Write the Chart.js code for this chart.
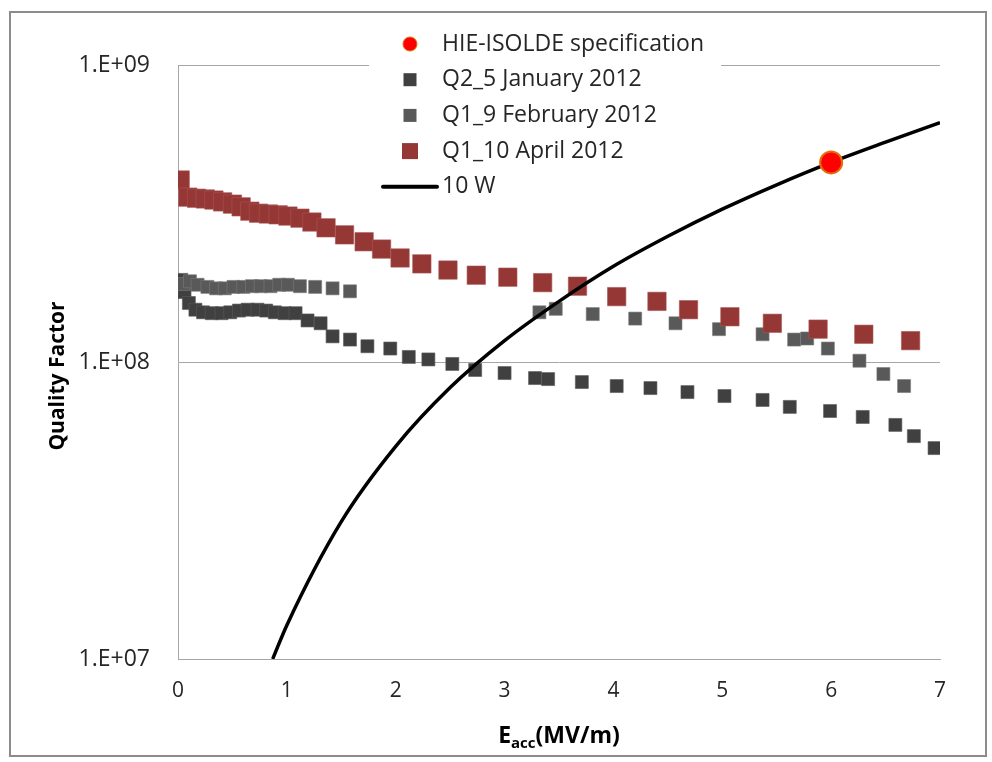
<!DOCTYPE html>
<html lang="en">
<head>
  <meta charset="UTF-8">
  <title>Quality Factor vs Eacc</title>
  <script src="https://cdn.jsdelivr.net/npm/chart.js"></script>
  <style>
    html, body { margin: 0; padding: 0; background: #fff; }
    #wrap { width: 992px; height: 762px; }
  </style>
</head>
<body>
<div id="wrap"><canvas id="qChart" width="992" height="762"></canvas></div>
<script>
  // HIE-ISOLDE specification point
  const specE = [6.0];
  const specQ = [4.7e8];

  // Q2_5 January 2012
  const janE = [0.03, 0.06, 0.10, 0.16, 0.23, 0.31, 0.40, 0.48, 0.56, 0.64, 0.73, 0.81, 0.89, 0.98, 1.08,
                1.19, 1.31, 1.42, 1.58, 1.74, 1.95, 2.12, 2.30, 2.52, 2.73, 3.00, 3.28, 3.40, 3.71, 4.03,
                4.34, 4.68, 5.02, 5.37, 5.62, 5.99, 6.29, 6.59, 6.76, 6.95];
  const janQ = [1.89e8, 1.72e8, 1.58e8, 1.50e8, 1.47e8, 1.46e8, 1.46e8, 1.47e8, 1.49e8, 1.50e8, 1.50e8, 1.49e8, 1.47e8, 1.46e8, 1.46e8,
                1.38e8, 1.35e8, 1.22e8, 1.19e8, 1.13e8, 1.11e8, 1.04e8, 1.02e8, 9.85e7, 9.40e7, 9.18e7, 8.83e7, 8.76e7, 8.56e7, 8.30e7,
                8.17e7, 7.92e7, 7.68e7, 7.45e7, 7.06e7, 6.84e7, 6.53e7, 6.14e7, 5.63e7, 5.13e7];

  // Q1_9 February 2012
  const febE = [0.05, 0.11, 0.18, 0.27, 0.35, 0.43, 0.51, 0.60, 0.68, 0.76, 0.85, 0.93, 1.01, 1.12, 1.26, 1.42, 1.58,
                3.32, 3.47, 3.81, 4.20, 4.57, 4.97, 5.37, 5.66, 5.78, 5.97, 6.26, 6.48, 6.67];
  const febQ = [1.83e8, 1.87e8, 1.82e8, 1.79e8, 1.77e8, 1.77e8, 1.79e8, 1.79e8, 1.80e8, 1.80e8, 1.80e8, 1.82e8, 1.82e8, 1.80e8, 1.79e8, 1.77e8, 1.73e8,
                1.47e8, 1.51e8, 1.45e8, 1.40e8, 1.35e8, 1.29e8, 1.24e8, 1.19e8, 1.20e8, 1.11e8, 1.01e8, 9.11e7, 8.30e7];

  // Q1_10 April 2012
  const aprE = [0.02, 0.09, 0.17, 0.25, 0.33, 0.41, 0.50, 0.58, 0.66, 0.74, 0.83, 0.92, 1.01, 1.12, 1.23, 1.36, 1.53,
                1.71, 1.87, 2.04, 2.24, 2.48, 2.74, 3.03, 3.35, 3.67, 4.03, 4.40, 4.69, 5.07, 5.46, 5.88, 6.30, 6.73];
  const aprQ = [4.10e8, 3.59e8, 3.56e8, 3.54e8, 3.51e8, 3.46e8, 3.40e8, 3.33e8, 3.22e8, 3.17e8, 3.15e8, 3.13e8, 3.10e8, 3.05e8, 2.96e8, 2.83e8, 2.68e8,
                2.54e8, 2.40e8, 2.24e8, 2.14e8, 2.04e8, 1.96e8, 1.93e8, 1.85e8, 1.80e8, 1.66e8, 1.60e8, 1.50e8, 1.42e8, 1.35e8, 1.29e8, 1.24e8, 1.18e8];

  // 10 W curve
  const wattE = [0.87, 1.0, 1.5, 2.0, 2.5, 3.0, 3.5, 4.0, 4.5, 5.0, 5.5, 6.0, 6.5, 7.0];
  const wattQ = [1.0e7, 1.3e7, 2.9e7, 5.2e7, 8.2e7, 1.18e8, 1.6e8, 2.1e8, 2.65e8, 3.27e8, 3.95e8, 4.7e8, 5.5e8, 6.4e8];

  const xTicks = [0, 1, 2, 3, 4, 5, 6, 7];
  const yTicks = [1e7, 1e8, 1e9];

  const pts = (xs, ys) => xs.map((x, i) => ({ x: x, y: ys[i] }));

  const FONT = "'Open Sans', 'Liberation Sans', sans-serif";
  const GRID = '#a6a6a6';

  // legend marker kinds, same order as datasets
  const legendKinds = ['circle', 'square', 'square', 'square', 'line'];
  const legendSizes = [7, 6.5, 6.5, 8, 0];

  const overlay = {
    id: 'overlay',
    beforeDatasetsDraw(chart) {
      const ctx = chart.ctx;
      ctx.save();
      ctx.fillStyle = '#fff';
      ctx.fillRect(369, 22, 352, 184);
      ctx.restore();
    },
    afterDraw(chart) {
      const ctx = chart.ctx;
      const ca = chart.chartArea;
      ctx.save();

      // legend
      chart.data.datasets.forEach((ds, i) => {
        const y = 44 + i * 35.7;
        const mx = 410;
        const kind = legendKinds[i];
        const s = legendSizes[i];
        if (kind === 'circle') {
          ctx.beginPath();
          ctx.arc(mx, y, s, 0, Math.PI * 2);
          ctx.fillStyle = ds.backgroundColor;
          ctx.fill();
          ctx.lineWidth = 1;
          ctx.strokeStyle = ds.borderColor;
          ctx.stroke();
        } else if (kind === 'square') {
          ctx.fillStyle = ds.backgroundColor;
          ctx.fillRect(mx - s, y - s, s * 2, s * 2);
        } else {
          ctx.beginPath();
          ctx.moveTo(383, y);
          ctx.lineTo(437, y);
          ctx.lineWidth = 4;
          ctx.lineCap = 'round';
          ctx.strokeStyle = ds.borderColor;
          ctx.stroke();
        }
        ctx.fillStyle = '#262626';
        ctx.font = '23px ' + FONT;
        ctx.textAlign = 'left';
        ctx.textBaseline = 'middle';
        ctx.fillText(ds.label, 442, y);
      });

      // x title with subscript
      ctx.fillStyle = '#000';
      ctx.textBaseline = 'alphabetic';
      ctx.textAlign = 'left';
      const bigE = 'bold 23px ' + FONT;
      const sub = 'bold 15px ' + FONT;
      ctx.font = bigE;
      const wE = ctx.measureText('E').width;
      const wRest = ctx.measureText('(MV/m)').width;
      ctx.font = sub;
      const wSub = ctx.measureText('acc').width;
      let x0 = (ca.left + ca.right) / 2 - (wE + wSub + wRest) / 2;
      const base = 743;
      ctx.font = bigE;
      ctx.fillText('E', x0, base);
      ctx.font = sub;
      ctx.fillText('acc', x0 + wE, base + 5);
      ctx.font = bigE;
      ctx.fillText('(MV/m)', x0 + wE + wSub, base);

      // y title
      ctx.translate(58, 376);
      ctx.rotate(-Math.PI / 2);
      ctx.textAlign = 'center';
      ctx.textBaseline = 'middle';
      ctx.font = 'bold 21px ' + FONT;
      ctx.fillText('Quality Factor', 0, 0);
      ctx.setTransform(1, 0, 0, 1, 0, 0);

      // outer frame
      ctx.strokeStyle = '#8c8c8c';
      ctx.lineWidth = 2;
      ctx.strokeRect(10, 12, 976, 744);
      ctx.restore();
    }
  };

  new Chart(document.getElementById('qChart'), {
    type: 'scatter',
    data: {
      datasets: [
        { label: 'HIE-ISOLDE specification', data: pts(specE, specQ), pointStyle: 'circle', pointRadius: 11,
          backgroundColor: '#ff0000', borderColor: '#e46c0a', borderWidth: 2, order: 0 },
        { label: 'Q2_5 January 2012', data: pts(janE, janQ), pointStyle: 'rect', pointRadius: 9.2,
          backgroundColor: '#404040', borderColor: '#5a5a5a', borderWidth: 0.6, order: 4 },
        { label: 'Q1_9 February 2012', data: pts(febE, febQ), pointStyle: 'rect', pointRadius: 9.2,
          backgroundColor: '#595959', borderColor: '#7a7a7a', borderWidth: 0.6, order: 3 },
        { label: 'Q1_10 April 2012', data: pts(aprE, aprQ), pointStyle: 'rect', pointRadius: 13,
          backgroundColor: '#953735', borderColor: '#a85856', borderWidth: 0.6, order: 2 },
        { label: '10 W', data: pts(wattE, wattQ), showLine: true, pointRadius: 0, borderWidth: 3.5,
          borderColor: '#000', backgroundColor: '#000', cubicInterpolationMode: 'monotone', order: 1 }
      ]
    },
    options: {
      responsive: false,
      animation: false,
      layout: { padding: { left: 0, top: 65, right: 52, bottom: 0 } },
      plugins: { legend: { display: false }, tooltip: { enabled: false } },
      scales: {
        x: {
          type: 'linear', min: 0, max: 7,
          afterFit(scale) { scale.height = 103; },
          afterBuildTicks(scale) { scale.ticks = xTicks.map(v => ({ value: v })); },
          grid: { display: false, drawTicks: false },
          border: { display: true, color: GRID, width: 1 },
          ticks: { padding: 19, color: '#262626', font: { family: FONT, size: 21 } }
        },
        y: {
          type: 'logarithmic', min: 1e7, max: 1e9,
          afterFit(scale) { scale.width = 178; },
          afterBuildTicks(scale) { scale.ticks = yTicks.map(v => ({ value: v })); },
          grid: { color: GRID, drawTicks: false },
          border: { display: true, color: GRID, width: 1 },
          ticks: {
            padding: 28, color: '#262626', font: { family: FONT, size: 23 },
            callback: v => '1.E+' + String(Math.round(Math.log10(v))).padStart(2, '0')
          }
        }
      }
    },
    plugins: [overlay]
  });
</script>
</body>
</html>
